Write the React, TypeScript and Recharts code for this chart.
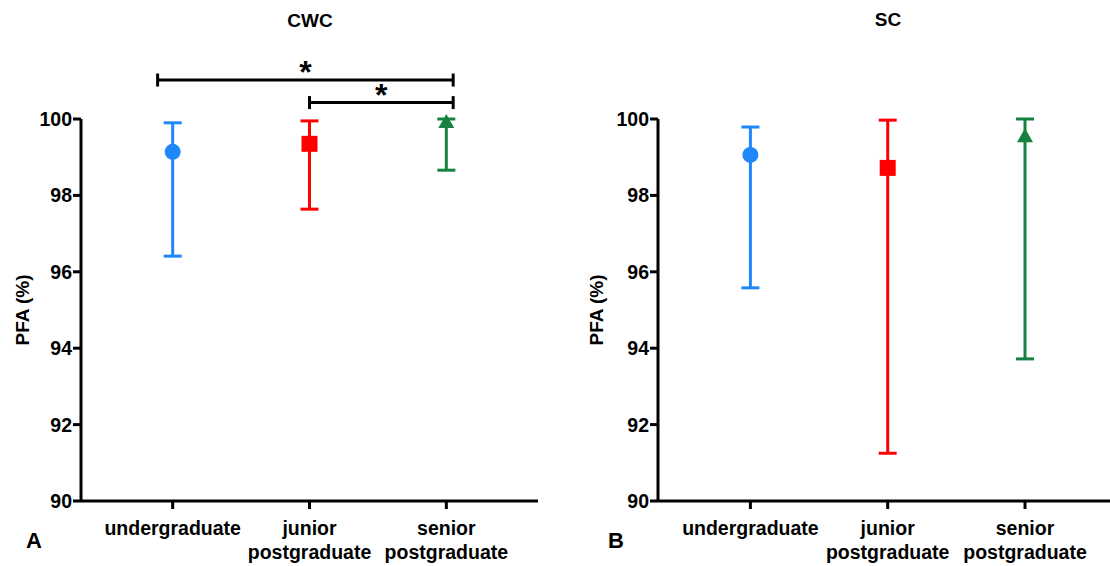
import React from "react";
import {
  ErrorBar,
  ReferenceLine,
  Scatter,
  ScatterChart,
  XAxis,
  YAxis,
} from "recharts";

const groupLines = [
  ["undergraduate"],
  ["junior", "postgraduate"],
  ["senior", "postgraduate"],
];
const groupColors = ["#1f87fa", "#ff0000", "#15833f"];
const groupMarkers = ["circle", "square", "triangle"];

// CWC panel: median with range
const cwcMid = [99.14, 99.35, 99.92];
const cwcLow = [96.41, 97.64, 98.66];
const cwcHigh = [99.9, 99.95, 100];

// SC panel
const scMid = [99.06, 98.72, 99.55];
const scLow = [95.58, 91.25, 93.72];
const scHigh = [99.79, 99.97, 100];

const yTicks = [90, 92, 94, 96, 98, 100];

// significance bars (start/end in group units, level in PFA units)
const cwcBrackets = [
  { start: -0.11, end: 2.05, level: 101.02, mark: "*" },
  { start: 1, end: 2.05, level: 100.43, mark: "*" },
];
const scBrackets: { start: number; end: number; level: number; mark: string }[] = [];

const FONT = '"Liberation Sans", Arial, Helvetica, sans-serif';
const FS = 19.5;

const makePoints = (mid: number[], low: number[], high: number[]) =>
  mid.map((m, i) => ({ x: i, y: m, err: [m - low[i], high[i] - m] }));

function Marker(props: any) {
  const { cx, cy, fill, kind } = props;
  if (kind === "circle") return <circle cx={cx} cy={cy} r={8} fill={fill} />;
  if (kind === "square")
    return <rect x={cx - 8} y={cy - 8} width={16} height={16} fill={fill} />;
  return (
    <polygon
      points={`${cx},${cy - 8} ${cx + 8},${cy + 6} ${cx - 8},${cy + 6}`}
      fill={fill}
    />
  );
}

function CategoryTick(props: any) {
  const { x, y, payload } = props;
  const lines = groupLines[payload.value] || [];
  return (
    <text
      x={x}
      y={y}
      textAnchor="middle"
      fontFamily={FONT}
      fontWeight={700}
      fontSize={FS}
      fill="#000"
    >
      {lines.map((l, i) => (
        <tspan key={i} x={x} y={y + 23.5 + i * 24.5}>
          {l}
        </tspan>
      ))}
    </text>
  );
}

function Panel(props: any) {
  const { mid, low, high, brackets, axisWidth, right, xDomain, labelOffset } = props;
  const points = makePoints(mid, low, high);
  return (
    <ScatterChart
      width={555}
      height={566}
      margin={{ top: 119, right: right, bottom: 0, left: 0 }}
    >
      <XAxis
        type="number"
        dataKey="x"
        domain={xDomain}
        ticks={[0, 1, 2]}
        interval={0}
        height={65}
        tickSize={8}
        tick={<CategoryTick />}
        axisLine={{ stroke: "#000", strokeWidth: 3 }}
        tickLine={{ stroke: "#000", strokeWidth: 3 }}
      />
      <YAxis
        type="number"
        dataKey="y"
        domain={[90, 100]}
        ticks={yTicks}
        interval={0}
        width={axisWidth}
        tickSize={8}
        tickMargin={1}
        tick={{ fill: "#000", fontSize: FS, fontWeight: 700, fontFamily: FONT }}
        axisLine={{ stroke: "#000", strokeWidth: 3 }}
        tickLine={{ stroke: "#000", strokeWidth: 3 }}
        label={{
          value: "PFA (%)",
          angle: -90,
          position: "insideLeft",
          offset: labelOffset,
          style: {
            textAnchor: "middle",
            fontWeight: 700,
            fontSize: 19,
            fontFamily: FONT,
            fill: "#000",
          },
        }}
      />
      {points.map((p, i) => (
        <Scatter
          key={i}
          data={[p]}
          fill={groupColors[i]}
          isAnimationActive={false}
          shape={(sp: any) => <Marker {...sp} kind={groupMarkers[i]} fill={groupColors[i]} />}
        >
          <ErrorBar
            dataKey="err"
            direction="y"
            width={9}
            stroke={groupColors[i]}
            strokeWidth={3}
            isAnimationActive={false}
          />
        </Scatter>
      ))}
      {brackets.map((b: any, i: number) => (
        <React.Fragment key={i}>
          <ReferenceLine
            segment={[
              { x: b.start, y: b.level },
              { x: b.end, y: b.level },
            ]}
            stroke="#000"
            strokeWidth={3}
            ifOverflow="visible"
            label={{
              value: b.mark,
              position: "top",
              offset: -3,
              fontSize: 32,
              fontWeight: 700,
              fontFamily: FONT,
              fill: "#000",
            }}
          />
          <ReferenceLine
            segment={[
              { x: b.start, y: b.level - 0.17 },
              { x: b.start, y: b.level + 0.17 },
            ]}
            stroke="#000"
            strokeWidth={3}
            ifOverflow="visible"
          />
          <ReferenceLine
            segment={[
              { x: b.end, y: b.level - 0.17 },
              { x: b.end, y: b.level + 0.17 },
            ]}
            stroke="#000"
            strokeWidth={3}
            ifOverflow="visible"
          />
        </React.Fragment>
      ))}
    </ScatterChart>
  );
}

const textStyle: React.CSSProperties = {
  position: "absolute",
  fontFamily: FONT,
  fontWeight: 700,
  color: "#000",
  whiteSpace: "nowrap",
};

export default function App() {
  return (
    <div
      style={{
        position: "absolute",
        left: 0,
        top: 0,
        width: 1110,
        height: 566,
        background: "#fff",
      }}
    >
      <div style={{ position: "absolute", left: 0, top: 0 }}>
        <Panel
          mid={cwcMid}
          low={cwcLow}
          high={cwcHigh}
          brackets={cwcBrackets}
          axisWidth={81}
          right={17}
          xDomain={[-0.67, 2.67]}
          labelOffset={22}
        />
      </div>
      <div style={{ position: "absolute", left: 555, top: 0 }}>
        <Panel
          mid={scMid}
          low={scLow}
          high={scHigh}
          brackets={scBrackets}
          axisWidth={103}
          right={0}
          xDomain={[-0.673, 2.619]}
          labelOffset={41}
        />
      </div>
      <div
        style={{
          ...textStyle,
          left: 310,
          top: 11,
          fontSize: 19,
          lineHeight: "19px",
          transform: "translateX(-50%)",
        }}
      >
        CWC
      </div>
      <div
        style={{
          ...textStyle,
          left: 888,
          top: 10,
          fontSize: 19,
          lineHeight: "19px",
          transform: "translateX(-50%)",
        }}
      >
        SC
      </div>
      <div style={{ ...textStyle, left: 26, top: 530, fontSize: 22, lineHeight: "22px" }}>
        A
      </div>
      <div style={{ ...textStyle, left: 608, top: 530, fontSize: 22, lineHeight: "22px" }}>
        B
      </div>
    </div>
  );
}
